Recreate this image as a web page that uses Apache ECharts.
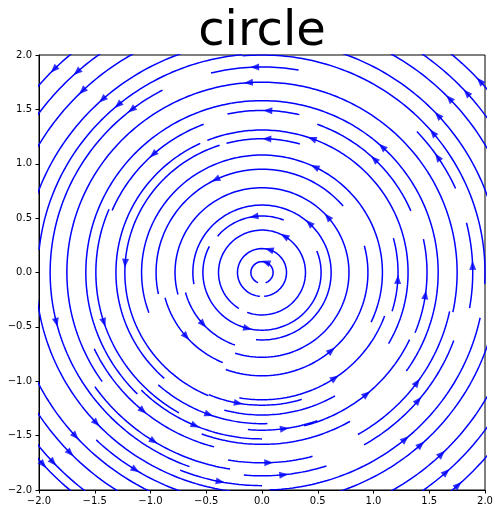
<!DOCTYPE html>
<html><head><meta charset="utf-8">
<script src="https://cdn.jsdelivr.net/npm/echarts@6/dist/echarts.min.js"></script>
<style>html,body{margin:0;padding:0;background:#fff}#c{width:500px;height:514px}</style>
</head><body><div id="c"></div>
<script>
const chartTitle = 'circle';
const xTicks = [-2.0, -1.5, -1.0, -0.5, 0.0, 0.5, 1.0, 1.5, 2.0];
const yTicks = [-2.0, -1.5, -1.0, -0.5, 0.0, 0.5, 1.0, 1.5, 2.0];
// streamline arcs: radius, start angle, end angle (deg, counter-clockwise), arrow angle
const segRadius = [0.10,0.22,0.39,0.52,0.53,0.62,0.71,0.78,0.95,0.90,0.95,1.08,1.23,1.23,1.22,1.22,1.17,1.31,1.31,1.31,1.39,1.45,1.49,1.46,1.49,1.48,1.46,1.45,1.53,1.58,1.58,1.58,1.58,1.66,1.72,1.75,1.75,1.83,1.83,1.87,1.89,1.90,1.90,1.89,1.90,2.00,2.01,2.03,1.96,2.00,2.14,2.14,2.14,2.13,2.25,2.32,2.32,2.32,2.39,2.47,2.48,2.47,2.56,2.63,2.64,2.63,2.64];
const segStart  = [-71,-85,-110,68,153,-95,195,-108,40,195,-110,-25,74,108,247,-17,-100,-30,115,255,228,23,77,111,157,-22,-75,-95,225,15,100,-35,250,205,-60,-12,-100,215,-60,-95,80,118,139,-10,24,-3,95,186,248,-88,0,90,226,-90,180,0,90,-90,180,0,90,-90,180,0,90,-90,180];
const segEnd    = [249,265,238,140,382,190,250,195,192,247,15,200,105,247,287,15,-20,112,228,300,272,70,102,157,240,12,-25,-70,270,100,225,15,300,255,-12,215,-75,261,-20,-72,104,139,250,14,43,95,174,262,270,-12,90,180,262,0,270,90,180,0,270,90,180,0,270,90,180,0,270];
const segArrow  = [70,73,59,98,256,47,222,41,116,221,-49,64,88,176,260,-3,-56,70,null,null,250,46,88,132,198,-8,-50,-82,247,47,null,null,null,230,-36,94,-88,238,-40,-84,92,128,194,2,34,40,130,223,259,-50,42.5,132,238,-48,222,43.6,134,-46,224,42,132,-48,223,42,135,-48,222];

const fmt = v => (v < 0 ? '\u2212' : '') + Math.abs(v).toFixed(1);
const rad = d => d * Math.PI / 180;
const series = [];
const arrowData = [];
for (let i = 0; i < segRadius.length; i++) {
  const r = segRadius[i], pts = [];
  for (let a = segStart[i]; a <= segEnd[i] + 0.001; a += 1) pts.push([r * Math.cos(rad(a)), r * Math.sin(rad(a))]);
  series.push({type: 'line', data: pts, showSymbol: false, silent: true, clip: true,
    lineStyle: {color: '#0000ff', width: 1.5}, z: 2});
  if (segArrow[i] !== null) {
    const a = segArrow[i];
    arrowData.push({value: [r * Math.cos(rad(a)), r * Math.sin(rad(a))], symbolRotate: a});
  }
}
series.push({type: 'scatter', data: arrowData, symbol: 'triangle', symbolSize: [7, 9],
  itemStyle: {color: '#0000ff'}, silent: true, z: 3});

const chart = echarts.init(document.getElementById('c'), null, {renderer: 'canvas'});
chart.setOption({
  animation: false,
  backgroundColor: '#fff',
  graphic: [{type: 'text', x: 262, y: 33, z: 10,
    style: {text: chartTitle, font: '48px "DejaVu Sans"', fill: '#000', textAlign: 'center', textVerticalAlign: 'middle'}}],
  grid: {left: 39, top: 55, right: 15, bottom: 24, show: true, borderColor: '#000', borderWidth: 1, backgroundColor: 'transparent'},
  xAxis: {type: 'value', min: xTicks[0], max: xTicks[xTicks.length - 1], interval: 0.5,
    axisLine: {show: true, onZero: false, lineStyle: {color: '#000', width: 1}},
    axisTick: {show: true, length: 3.5, lineStyle: {color: '#000'}},
    axisLabel: {color: '#000', fontFamily: 'DejaVu Sans', fontSize: 10, margin: 6, formatter: fmt},
    splitLine: {show: false}},
  yAxis: {type: 'value', min: yTicks[0], max: yTicks[yTicks.length - 1], interval: 0.5,
    axisLine: {show: true, onZero: false, lineStyle: {color: '#000', width: 1}},
    axisTick: {show: true, length: 3.5, lineStyle: {color: '#000'}},
    axisLabel: {color: '#000', fontFamily: 'DejaVu Sans', fontSize: 10, margin: 7, formatter: fmt},
    splitLine: {show: false}},
  series: series
});
</script></body></html>
